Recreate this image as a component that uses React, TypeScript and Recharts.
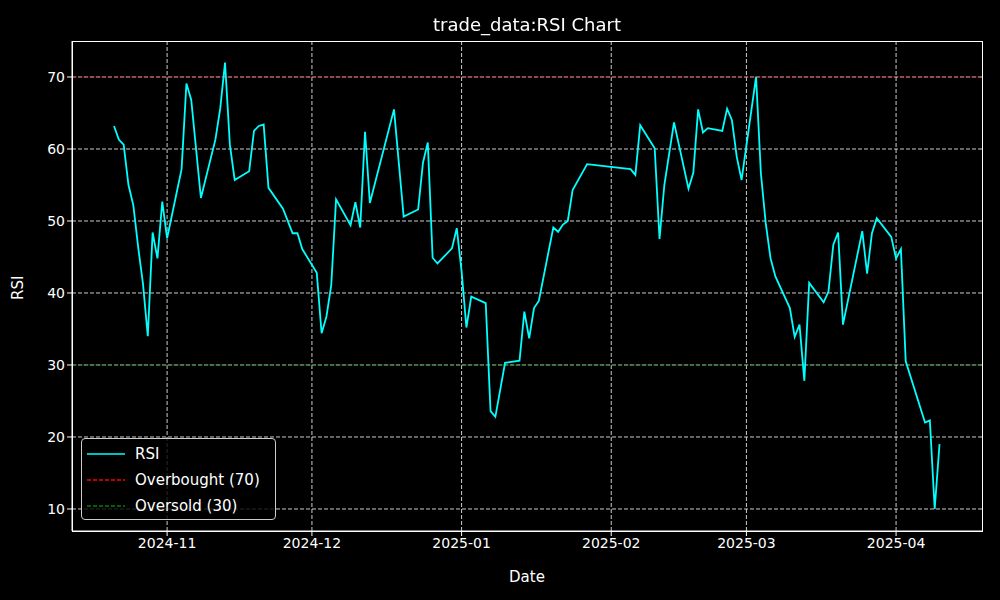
import { LineChart, Line, XAxis, YAxis, CartesianGrid, ReferenceLine } from 'recharts';

// days counted from 2024-11-01
const days = [-11, -10, -9, -8, -7, -6, -5, -4, -3, -2, -1, 0, 3, 4, 5, 7, 10, 11, 12, 13, 14, 17, 18, 19, 20, 21, 24, 26, 27, 28, 31, 32, 33, 34, 35, 38, 39, 40, 41, 42, 47, 49, 52, 53, 54, 55, 56, 59, 60, 61, 62, 63, 66, 67, 68, 70, 73, 74, 75, 76, 77, 80, 81, 82, 83, 84, 87, 96, 97, 98, 101, 102, 103, 105, 108, 109, 110, 111, 112, 115, 116, 117, 118, 119, 122, 123, 124, 125, 126, 129, 130, 131, 132, 133, 136, 137, 138, 139, 140, 144, 145, 146, 147, 150, 151, 152, 153, 157, 158, 159, 160];
const rsi = [63.2, 61.3, 60.6, 55, 52.2, 46.4, 41.3, 34.0, 48.4, 44.8, 52.7, 47.6, 57.2, 69.1, 66.8, 53.2, 61.3, 65.6, 72, 60.6, 55.7, 56.9, 62.5, 63.2, 63.4, 54.6, 51.7, 48.3, 48.3, 46.1, 42.8, 34.4, 36.7, 41.1, 53, 49.4, 52.6, 49.1, 62.4, 52.5, 65.5, 50.6, 51.6, 58.1, 60.9, 44.9, 44.1, 46.2, 49, 43, 35.2, 39.5, 38.6, 23.6, 22.8, 30.3, 30.6, 37.4, 33.7, 37.9, 38.9, 49.1, 48.5, 49.5, 50, 54.3, 57.9, 57.2, 56.4, 63.3, 60.1, 47.5, 55, 63.7, 54.5, 56.7, 65.5, 62.3, 62.9, 62.5, 65.6, 64, 58.9, 55.7, 70, 56.6, 49.7, 44.8, 42.3, 37.9, 33.9, 35.6, 27.8, 41.4, 38.7, 40.2, 46.7, 48.4, 35.6, 48.6, 42.7, 48.3, 50.4, 47.8, 44.8, 46.1, 30.5, 22, 22.3, 10, 19];

const xTicks = [0, 30, 61, 92, 120, 151];
const xTickLabels = ['2024-11', '2024-12', '2025-01', '2025-02', '2025-03', '2025-04'];
const yTicks = [10, 20, 30, 40, 50, 60, 70];

const data = days.map((d, i) => ({ day: d, rsi: rsi[i] }));

const font = 'DejaVu Sans, sans-serif';
const tickStyle = { fill: '#fff', fontSize: 14, fontFamily: font };

export default function App() {
  return (
    <div style={{ position: 'fixed', left: 0, top: 0, width: 1000, height: 600, background: '#000', fontFamily: font, color: '#fff' }}>
      <LineChart width={1000} height={600} data={data} margin={{ top: 41, right: 18, left: 0, bottom: 0 }}>
        <CartesianGrid stroke="#fff" strokeDasharray="4 2" strokeWidth={0.8} horizontalValues={yTicks} verticalValues={xTicks} />
        <XAxis
          dataKey="day"
          type="number"
          domain={[-19.7, 168.8]}
          ticks={xTicks}
          tickFormatter={(v) => xTickLabels[xTicks.indexOf(v)]}
          height={69}
          tick={tickStyle}
          stroke="#fff"
          tickSize={5}
          label={{ value: 'Date', position: 'insideBottom', offset: 18, fill: '#fff', fontSize: 15, fontFamily: font }}
        />
        <YAxis
          type="number"
          domain={[6.94, 75]}
          ticks={yTicks}
          width={72}
          tick={tickStyle}
          stroke="#fff"
          tickSize={5}
          label={{ value: 'RSI', angle: -90, position: 'insideLeft', offset: 18, fill: '#fff', fontSize: 15, fontFamily: font, dy: 14 }}
        />
        <ReferenceLine y={70} stroke="#ff0000" strokeOpacity={0.55} strokeDasharray="5 2" />
        <ReferenceLine y={30} stroke="#008000" strokeOpacity={0.7} strokeDasharray="5 2" />
        <Line dataKey="rsi" type="linear" stroke="#00ffff" strokeWidth={1.8} dot={false} isAnimationActive={false} />
      </LineChart>
      <div style={{ position: 'absolute', left: 72, top: 41, width: 909, height: 489, border: '1px solid #fff', pointerEvents: 'none' }} />
      <div style={{ position: 'absolute', left: 0, top: 14, width: 1054, textAlign: 'center', fontSize: 18 }}>trade_data:RSI Chart</div>
      <div style={{ position: 'absolute', left: 81, top: 438, width: 195, height: 82, border: '1px solid #ccc', borderRadius: 4, background: 'rgba(0,0,0,0.8)', fontSize: 15, lineHeight: '26px', padding: '2px 0 0 5px', boxSizing: 'border-box' }}>
        {[
          { label: 'RSI', color: '#00ffff', dash: false },
          { label: 'Overbought (70)', color: '#ff0000', dash: true },
          { label: 'Oversold (30)', color: '#008000', dash: true },
        ].map((e) => (
          <div key={e.label} style={{ display: 'flex', alignItems: 'center' }}>
            <svg width={38} height={10} style={{ marginRight: 10 }}>
              <line x1={0} y1={5} x2={38} y2={5} stroke={e.color} strokeWidth={1.5} strokeDasharray={e.dash ? '4 2' : undefined} />
            </svg>
            {e.label}
          </div>
        ))}
      </div>
    </div>
  );
}
